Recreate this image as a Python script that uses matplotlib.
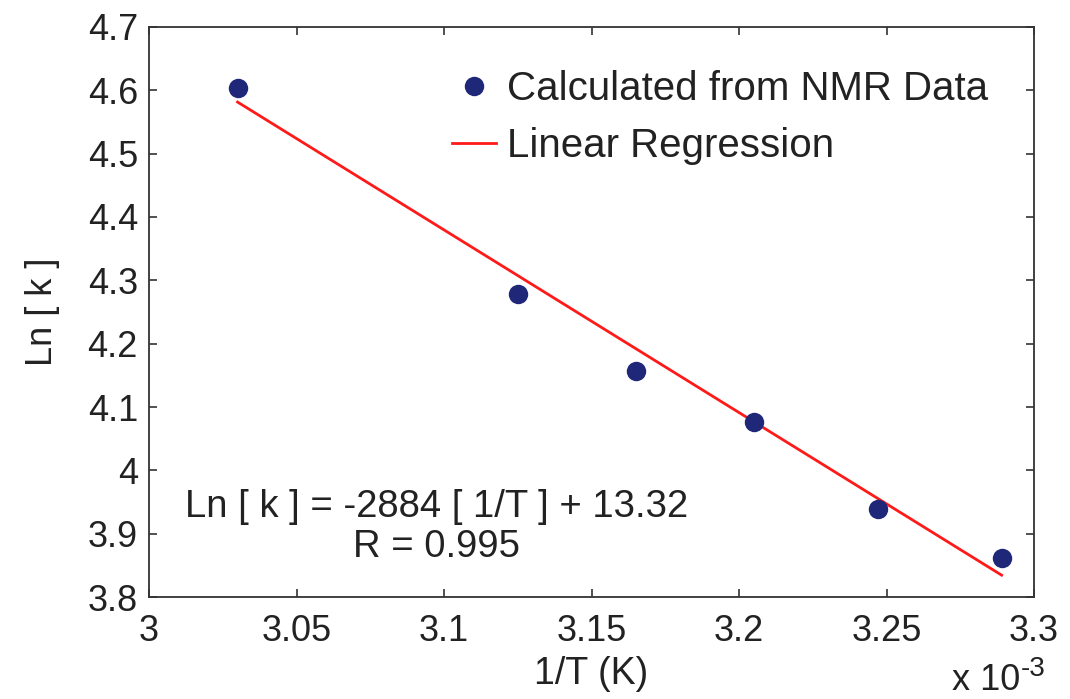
import matplotlib
matplotlib.use("Agg")
import matplotlib.pyplot as plt
import numpy as np

# Data (1/T in units of 1e-3 K^-1)
inv_T_e3 = [3.030, 3.125, 3.165, 3.205, 3.247, 3.289]
ln_k = [4.603, 4.279, 4.157, 4.077, 3.939, 3.862]
slope_e3 = -2.884
intercept = 13.32
x_ticks = [3.0, 3.05, 3.1, 3.15, 3.2, 3.25, 3.3]
x_tick_labels = ["3", "3.05", "3.1", "3.15", "3.2", "3.25", "3.3"]
y_ticks = [3.8, 3.9, 4.0, 4.1, 4.2, 4.3, 4.4, 4.5, 4.6, 4.7]
y_tick_labels = ["3.8", "3.9", "4", "4.1", "4.2", "4.3", "4.4", "4.5", "4.6", "4.7"]

plt.rcParams['font.family'] = ['Liberation Sans', 'DejaVu Sans']

fig = plt.figure(figsize=(10.70, 6.99), dpi=100)
ax = fig.add_axes([0.1393, 0.1459, 0.8271, 0.8155])

fit_x = np.array([inv_T_e3[0], inv_T_e3[-1]])
fit_y = slope_e3 * fit_x + intercept

ax.plot(inv_T_e3, ln_k, 'o', color='#1f2878', markersize=14,
        markeredgewidth=0, label='Calculated from NMR Data', zorder=3)
ax.plot(fit_x, fit_y, '-', color='#ff1a1a', linewidth=2.0,
        label='Linear Regression', zorder=2)

ax.set_xlim(3.0, 3.3)
ax.set_ylim(3.8, 4.7)
ax.set_xticks(x_ticks)
ax.set_xticklabels(x_tick_labels)
ax.set_yticks(y_ticks)
ax.set_yticklabels(y_tick_labels)

ax.tick_params(direction='in', length=6, width=1.2, colors='#333333',
               labelcolor='#222222', labelsize=26, top=True, right=True)
ax.tick_params(axis='x', pad=12)
ax.tick_params(axis='y', pad=8)
for s in ax.spines.values():
    s.set_color('#333333')
    s.set_linewidth(1.3)

ax.set_xlabel('1/T (K)', fontsize=27, color='#222222', labelpad=5)
ax.set_ylabel('Ln [ k ]', fontsize=26, color='#222222', labelpad=20)

fig.text(1020 / 1070, 1 - 690 / 699, 'x 10', fontsize=26, color='#222222',
         ha='right', va='baseline')
fig.text(1021 / 1070, 1 - 676 / 699, '-3', fontsize=20, color='#222222',
         ha='left', va='baseline')

ax.text(3.0975, 3.911, 'Ln [ k ] = -2884 [ 1/T ] + 13.32\nR = 0.995',
        fontsize=27.5, color='#222222', ha='center', va='center',
        linespacing=1.15)

leg = ax.legend(loc='upper right', bbox_to_anchor=(0.948, 0.925), frameon=False,
                fontsize=29, handlelength=1.1, handletextpad=0.27,
                labelspacing=0.49, borderaxespad=0.0, borderpad=0.0)
for t in leg.get_texts():
    t.set_color('#222222')

fig.savefig('out.png', dpi=100)
